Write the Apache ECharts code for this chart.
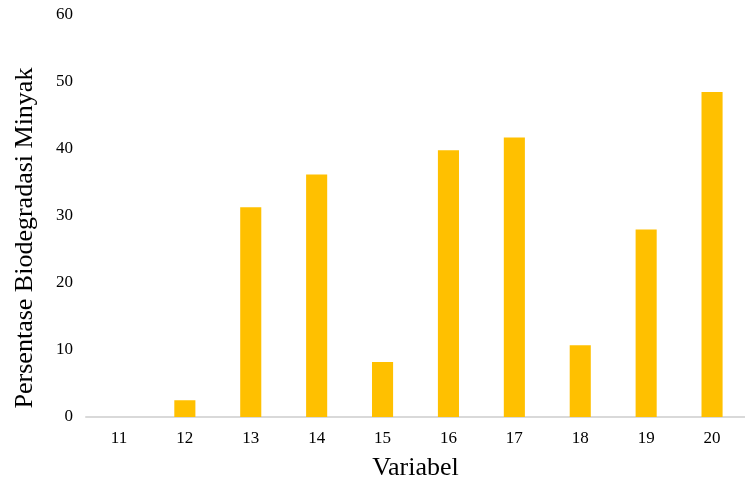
<!DOCTYPE html>
<html>
<head>
<meta charset="utf-8">
<script src="https://cdn.jsdelivr.net/npm/echarts@6/dist/echarts.min.js"></script>
<style>
  html, body { margin: 0; padding: 0; background: #fff; }
  #chart { width: 745px; height: 481px; }
</style>
</head>
<body>
<div id="chart"></div>
<script>
const categories = ['11', '12', '13', '14', '15', '16', '17', '18', '19', '20'];
const values = [0, 2.5, 31.3, 36.2, 8.2, 39.8, 41.7, 10.7, 28.0, 48.5];

const font = '"Liberation Serif", "DejaVu Serif", serif';

const myChart = echarts.init(document.getElementById('chart'));
myChart.setOption({
  animation: false,
  grid: { left: 86, right: 0, top: 15, bottom: 64, outerBoundsMode: 'none' },
  xAxis: {
    type: 'category',
    data: categories,
    name: 'Variabel',
    nameLocation: 'middle',
    nameGap: 38,
    nameTextStyle: { fontFamily: font, fontSize: 26, color: '#000' },
    axisLine: { lineStyle: { color: '#d9d9d9', width: 2 } },
    axisTick: { show: false },
    axisLabel: { fontFamily: font, fontSize: 17, color: '#000', margin: 13 }
  },
  yAxis: {
    type: 'value',
    min: 0,
    max: 60,
    interval: 10,
    name: 'Persentase Biodegradasi Minyak',
    nameLocation: 'middle',
    nameGap: 48,
    nameTextStyle: { fontFamily: font, fontSize: 26, color: '#000', padding: [0, 44, 0, 0] },
    axisLine: { show: false },
    axisTick: { show: false },
    splitLine: { show: false },
    axisLabel: { fontFamily: font, fontSize: 17, color: '#000', margin: 13 }
  },
  series: [{
    type: 'bar',
    data: values,
    barWidth: '32%',
    itemStyle: { color: '#ffc000' }
  }]
});
</script>
</body>
</html>
